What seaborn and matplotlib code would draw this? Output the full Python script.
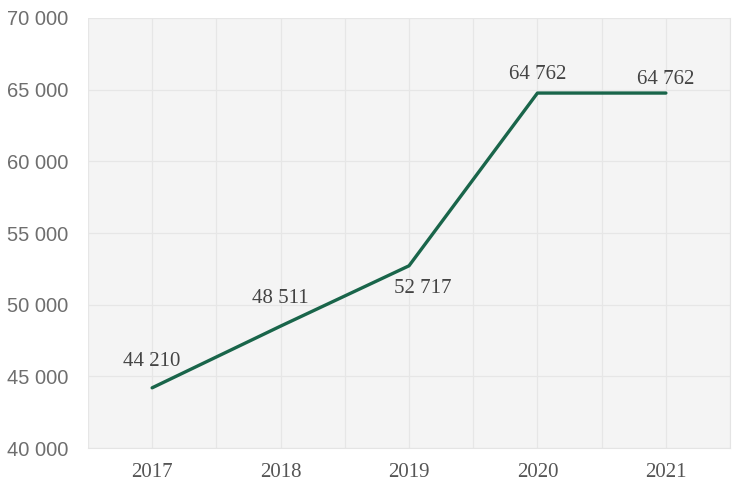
import pandas as pd
import matplotlib.pyplot as plt
import seaborn as sns
from matplotlib.ticker import MultipleLocator, FuncFormatter

years = ['2017', '2018', '2019', '2020', '2021']
values = [44210, 48511, 52717, 64762, 64762]
# label offsets in points (dx, dy) for each value label
label_offsets = [(0, 19), (0, 20), (10, -16), (0, 13), (0, 10)]

frame = pd.DataFrame({'pos': range(len(years)), 'value': values})

sns.set_style('white')
fig = plt.figure(figsize=(7.45, 4.98), dpi=100)
ax = fig.add_axes([0.118, 0.100, 0.862, 0.864])
ax.set_facecolor('#f4f4f4')

sns.lineplot(data=frame, x='pos', y='value', color='#19654a', linewidth=2.4, ax=ax)

ax.set_xlim(-0.5, 4.5)
ax.set_ylim(40000, 70000)
ax.yaxis.set_major_locator(MultipleLocator(5000))
ax.yaxis.set_major_formatter(FuncFormatter(lambda v, p: f'{int(v):,}'.replace(',', ' ')))
ax.set_xticks(range(len(years)))
ax.set_xticklabels(years, family='Liberation Serif', fontsize=15, color='#555555')
ax.xaxis.set_minor_locator(MultipleLocator(0.5))
for lab in ax.get_yticklabels():
    lab.set_family('Liberation Sans')
    lab.set_fontsize(14.5)
    lab.set_color('#6e6e6e')

ax.grid(True, which='both', color='#e6e6e6', linewidth=0.9)
ax.tick_params(which='both', length=0)
ax.tick_params(axis='y', pad=14)
ax.tick_params(axis='x', pad=11)
ax.set_xlabel('')
ax.set_ylabel('')
for s in ax.spines.values():
    s.set_color('#e4e4e4')
ax.spines['left'].set_visible(False)
ax.spines['top'].set_visible(False)

for i, v in enumerate(values):
    dx, dy = label_offsets[i]
    ax.annotate(f'{v:,}'.replace(',', ' '), (i, v), xytext=(dx, dy),
                textcoords='offset points', ha='center', va='center',
                family='Liberation Serif', fontsize=15, color='#444444')

fig.savefig('out.png', dpi=100)
